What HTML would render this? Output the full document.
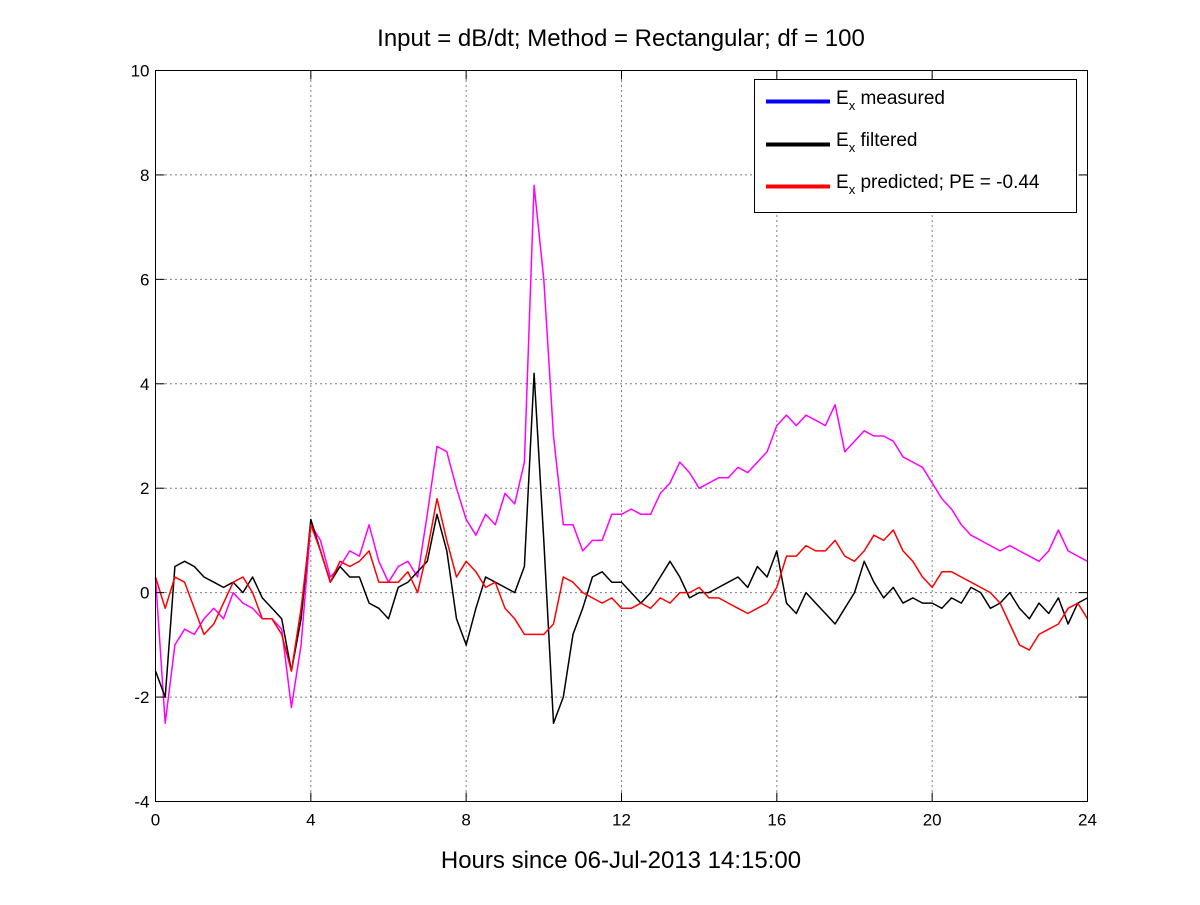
<!DOCTYPE html>
<html><head><meta charset="utf-8"><style>
html,body{margin:0;padding:0;background:#fff;}
svg text{font-family:"Liberation Sans",sans-serif;fill:#000;}
</style></head><body>
<svg id="chart" width="1200" height="900" xmlns="http://www.w3.org/2000/svg">
<rect width="1200" height="900" fill="#fff"/>
<text x="621" y="46" font-size="24" text-anchor="middle">Input = dB/dt; Method = Rectangular; df = 100</text>
<g id="grid"></g>
<g id="series"></g>
<rect x="155.5" y="70.5" width="932" height="731" fill="none" stroke="#000" stroke-width="1"/>
<g id="ticks"></g>
<text x="621" y="868" font-size="24" text-anchor="middle">Hours since 06-Jul-2013 14:15:00</text>
<g>
<rect x="754.5" y="79.5" width="322" height="133" fill="#fff" stroke="#000"/>
<g>
<line x1="766" y1="101.5" x2="830" y2="101.5" stroke="#0000ff" stroke-width="4"/>
<text x="836" y="104" font-size="19">E<tspan font-size="13" dy="6">x</tspan><tspan dy="-6"> measured</tspan></text></g>
<g>
<line x1="766" y1="144.5" x2="830" y2="144.5" stroke="#000" stroke-width="4"/>
<text x="836" y="146" font-size="19">E<tspan font-size="13" dy="6">x</tspan><tspan dy="-6"> filtered</tspan></text></g>
<g>
<line x1="766" y1="186.5" x2="830" y2="186.5" stroke="#ff0000" stroke-width="4"/>
<text x="836" y="188" font-size="19">E<tspan font-size="13" dy="6">x</tspan><tspan dy="-6"> predicted; PE = -0.44</tspan></text></g>
</g>
</svg>
<script>
const xTicks=[0,4,8,12,16,20,24];
const yTicks=[-4,-2,0,2,4,6,8,10];
const step=0.25;
const measured=[0.3,-2.5,-1.0,-0.7,-0.8,-0.5,-0.3,-0.5,0.0,-0.2,-0.3,-0.5,-0.5,-0.7,-2.2,-1.0,1.3,1.0,0.3,0.5,0.8,0.7,1.3,0.6,0.2,0.5,0.6,0.3,1.5,2.8,2.7,2.0,1.4,1.1,1.5,1.3,1.9,1.7,2.5,7.8,6.0,3.0,1.3,1.3,0.8,1.0,1.0,1.5,1.5,1.6,1.5,1.5,1.9,2.1,2.5,2.3,2.0,2.1,2.2,2.2,2.4,2.3,2.5,2.7,3.2,3.4,3.2,3.4,3.3,3.2,3.6,2.7,2.9,3.1,3.0,3.0,2.9,2.6,2.5,2.4,2.1,1.8,1.6,1.3,1.1,1.0,0.9,0.8,0.9,0.8,0.7,0.6,0.8,1.2,0.8,0.7,0.6];
const filtered=[-1.5,-2.0,0.5,0.6,0.5,0.3,0.2,0.1,0.2,0.0,0.3,-0.1,-0.3,-0.5,-1.5,-0.5,1.4,0.8,0.2,0.5,0.3,0.3,-0.2,-0.3,-0.5,0.1,0.2,0.4,0.6,1.5,0.8,-0.5,-1.0,-0.3,0.3,0.2,0.1,0.0,0.5,4.2,1.0,-2.5,-2.0,-0.8,-0.3,0.3,0.4,0.2,0.2,0.0,-0.2,0.0,0.3,0.6,0.3,-0.1,0.0,0.0,0.1,0.2,0.3,0.1,0.5,0.3,0.8,-0.2,-0.4,0.0,-0.2,-0.4,-0.6,-0.3,0.0,0.6,0.2,-0.1,0.1,-0.2,-0.1,-0.2,-0.2,-0.3,-0.1,-0.2,0.1,0.0,-0.3,-0.2,0.0,-0.3,-0.5,-0.2,-0.4,-0.1,-0.6,-0.2,-0.1];
const predicted=[0.3,-0.3,0.3,0.2,-0.3,-0.8,-0.6,-0.2,0.2,0.3,0.0,-0.5,-0.5,-0.8,-1.5,-0.3,1.3,0.8,0.2,0.6,0.5,0.6,0.8,0.2,0.2,0.2,0.4,0.0,0.8,1.8,1.0,0.3,0.6,0.4,0.1,0.2,-0.3,-0.5,-0.8,-0.8,-0.8,-0.6,0.3,0.2,0.0,-0.1,-0.2,-0.1,-0.3,-0.3,-0.2,-0.3,-0.1,-0.2,0.0,0.0,0.1,-0.1,-0.1,-0.2,-0.3,-0.4,-0.3,-0.2,0.1,0.7,0.7,0.9,0.8,0.8,1.0,0.7,0.6,0.8,1.1,1.0,1.2,0.8,0.6,0.3,0.1,0.4,0.4,0.3,0.2,0.1,0.0,-0.2,-0.6,-1.0,-1.1,-0.8,-0.7,-0.6,-0.3,-0.2,-0.5];
const X0=155.5,X1=1087.5,Y0=801.5,Y1=70.5;
const xs=v=>X0+(v-0)/24*(X1-X0);
const ys=v=>Y0-(v+4)/14*(Y0-Y1);
const NS="http://www.w3.org/2000/svg";
const grid=document.getElementById('grid'),ticks=document.getElementById('ticks'),ser=document.getElementById('series');
function mk(tag,attrs,parent){const e=document.createElementNS(NS,tag);for(const k in attrs)e.setAttribute(k,attrs[k]);parent.appendChild(e);return e;}
xTicks.forEach(t=>{const x=xs(t);
 if(t>0&&t<24){const g=mk('line',{x1:x,x2:x,y1:Y1,y2:Y0,stroke:'#000','stroke-dasharray':'1,4'},grid);
 
 }
 mk('line',{x1:x,x2:x,y1:Y0,y2:Y0-9,stroke:'#000'},ticks);
 mk('line',{x1:x,x2:x,y1:Y1,y2:Y1+9,stroke:'#000'},ticks);
 const l=mk('text',{x:x,y:Y0+24,'font-size':17,'text-anchor':'middle'},ticks);l.textContent=t;
 
 });
yTicks.forEach(t=>{const y=ys(t);
 if(t>-4&&t<10){const g=mk('line',{x1:X0,x2:X1,y1:y,y2:y,stroke:'#000','stroke-dasharray':'1,4'},grid);
 
 }
 mk('line',{x1:X0,x2:X0+9,y1:y,y2:y,stroke:'#000'},ticks);
 mk('line',{x1:X1,x2:X1-9,y1:y,y2:y,stroke:'#000'},ticks);
 const l=mk('text',{x:X0-6,y:y+6,'font-size':17,'text-anchor':'end'},ticks);l.textContent=t;
 
 });
function line(arr,color,name){const pts=arr.map((v,i)=>xs(i*step).toFixed(1)+','+ys(v).toFixed(1)).join(' ');
 const p=mk('polyline',{points:pts,fill:'none',stroke:color,'stroke-width':1.5,'stroke-linejoin':'round'},ser);
 
 }
line(measured,'#ff00ff','series-measured');
line(filtered,'#000000','series-filtered');
line(predicted,'#ff0000','series-predicted');
</script>
</body></html>
